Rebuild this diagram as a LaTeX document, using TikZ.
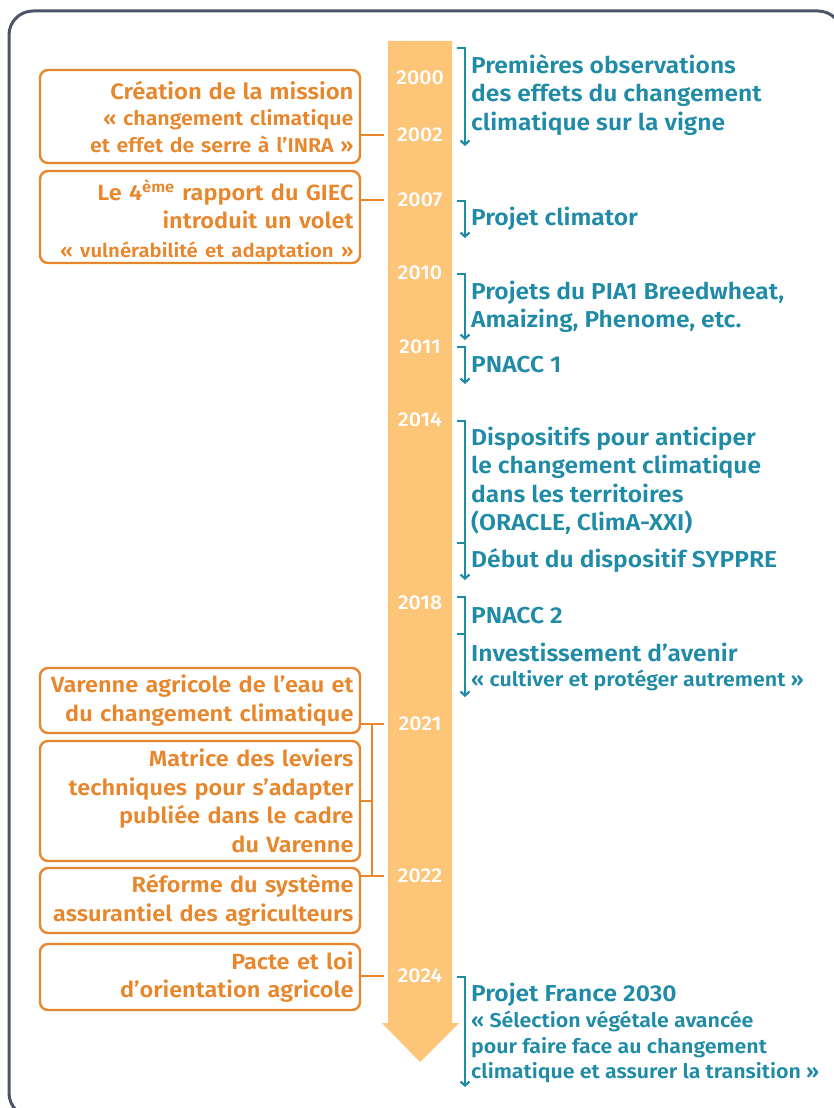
\documentclass[tikz,border=0pt]{standalone}
\usepackage{fontspec}
\setmainfont{Fira Sans}[BoldFont={Fira Sans SemiBold}, FakeStretch=1.07]
\newfontfamily\yearfont{Fira Sans Medium}[FakeStretch=1.07]
\usetikzlibrary{arrows.meta,positioning,calc}

\definecolor{friseorange}{HTML}{E8862B}
\definecolor{friseband}{HTML}{FDC577}
\definecolor{frisebleu}{HTML}{1F8BA6}
\definecolor{friseframe}{HTML}{4B5567}

\begin{document}
\begin{tikzpicture}[
    x=1pt, y=-1pt,
    frame/.style={draw=friseframe, line width=3pt, rounded corners=24pt},
    year/.style={text=white, font=\yearfont\fontsize{20}{20}\selectfont, minimum width=64pt, inner sep=0pt},
    event/.style={draw=friseorange, line width=2.4pt, rounded corners=8pt, text=friseorange, font=\bfseries\fontsize{22}{28.5}\selectfont, align=right, text width=307pt, inner xsep=6.5pt, inner ysep=0pt},
    olink/.style={draw=friseorange, line width=2.4pt},
    info/.style={text=frisebleu, font=\bfseries\fontsize{23}{28.5}\selectfont, align=left, anchor=west, inner sep=0pt},
    quote/.style={text=frisebleu, font=\bfseries\fontsize{20}{25.5}\selectfont, align=left, anchor=west, inner sep=0pt},
    bracket/.style={draw=frisebleu, line width=2.2pt, -{Straight Barb[length=4pt,width=9pt]}},
    tick/.style={draw=frisebleu, line width=2.2pt},
]

\useasboundingbox (0,0) rectangle (834,1108);
\clip (0,0) rectangle (834,1108);

\draw[frame] (9,11) rectangle (842,1117);

% Time band
\fill[friseband] (388,41) -- (452,41) -- (452,1023) -- (459,1023) -- (420,1062) -- (382,1023) -- (388,1023) -- cycle;

\foreach \yr/\ypos in {2000/78, 2002/135, 2007/200, 2010/273, 2011/347, 2014/420, 2018/603, 2021/724, 2022/876, 2024/976}
    \node[year] (y\yr) at (420,\ypos) {\yr};

% Events (left)
\node[event, minimum height=93pt, font=\bfseries\fontsize{20}{26.5}\selectfont] (creation) at (200,116.5) {{\fontsize{22.3}{26.5}\selectfont Création de la mission}\\«~changement climatique\\et effet de serre à l’INRA~»};
\node[event, minimum height=92pt] (giec) at (200,217) {\rule{0pt}{28pt}Le 4\textsuperscript{ème} rapport du GIEC\\introduit un volet\hspace*{6pt}\\{\fontsize{19}{26.5}\selectfont «~vulnérabilité et adaptation~»}};
\node[event, minimum height=65pt] (varenne) at (200,700.5) {Varenne agricole de l’eau et\\du changement climatique};
\node[event, minimum height=120pt] (matrice) at (200,801) {Matrice des leviers\\techniques pour s’adapter\\publiée dans le cadre\\du Varenne};
\node[event, minimum height=65pt] (reforme) at (200,900.5) {Réforme du système\\assurantiel des agriculteurs};
\node[event, minimum height=66pt] (pacte) at (200,977) {Pacte et loi\\d’orientation agricole};

\draw[olink] (creation.east |- y2002) -- ([xshift=-4pt]y2002.west);
\draw[olink] (giec.east |- y2007) -- ([xshift=-4pt]y2007.west);
\draw[olink] (varenne.east |- y2021) -- ([xshift=-4pt]y2021.west);
\draw[olink] (reforme.east |- y2022) -- ([xshift=-4pt]y2022.west);
\coordinate (vjoin) at (372,0);
\draw[olink] (vjoin |- y2021) -- (vjoin |- y2022);
\draw[olink] (matrice.east) -- (vjoin |- matrice.east);
\draw[olink] (pacte.east |- y2024) -- ([xshift=-4pt]y2024.west);

% Projects (right)
\node[info] (vigne) at (471,95) {Premières observations\\des effets du changement\\climatique sur la vigne};
\node[info] (climator) at (471,219) {Projet climator};
\node[info] (pia) at (471,307) {Projets du PIA1 Breedwheat,\\Amaizing, Phenome, etc.};
\node[info] (pnacc1) at (471,365) {PNACC 1};
\node[info] (territoires) at (471,481) {Dispositifs pour anticiper\\le changement climatique\\dans les territoires\\(ORACLE, ClimA-XXI)};
\node[info] (syppre) at (471,561) {Début du dispositif SYPPRE};
\node[info] (pnacc2) at (471,616) {PNACC 2};
\node[info] (avenir) at (471,652) {Investissement d’avenir};
\node[quote] (cultiver) at (471,680) {«~cultiver et protéger autrement~»};
\node[info] (france) at (471,995) {Projet France 2030};
\node[quote] (selection) at (471,1047) {«~Sélection végétale avancée\\pour faire face au changement\\climatique et assurer la transition~»};

\foreach \i/\ytop/\ybot in {1/48/146, 2/201/238, 3/274/340, 4/347/384, 5/421/580, 6/597/697, 7/977/1087} {
    \coordinate (top\i) at (457,\ytop);
    \coordinate (end\i) at (465,\ybot);
    \draw[bracket] (top\i) -| (end\i);
}
\coordinate (mid5) at (457,543);
\coordinate (mid6) at (457,634);
\draw[tick] (mid5) -- (mid5 -| end5);
\draw[tick] (mid6) -- (mid6 -| end6);

\end{tikzpicture}
\end{document}
